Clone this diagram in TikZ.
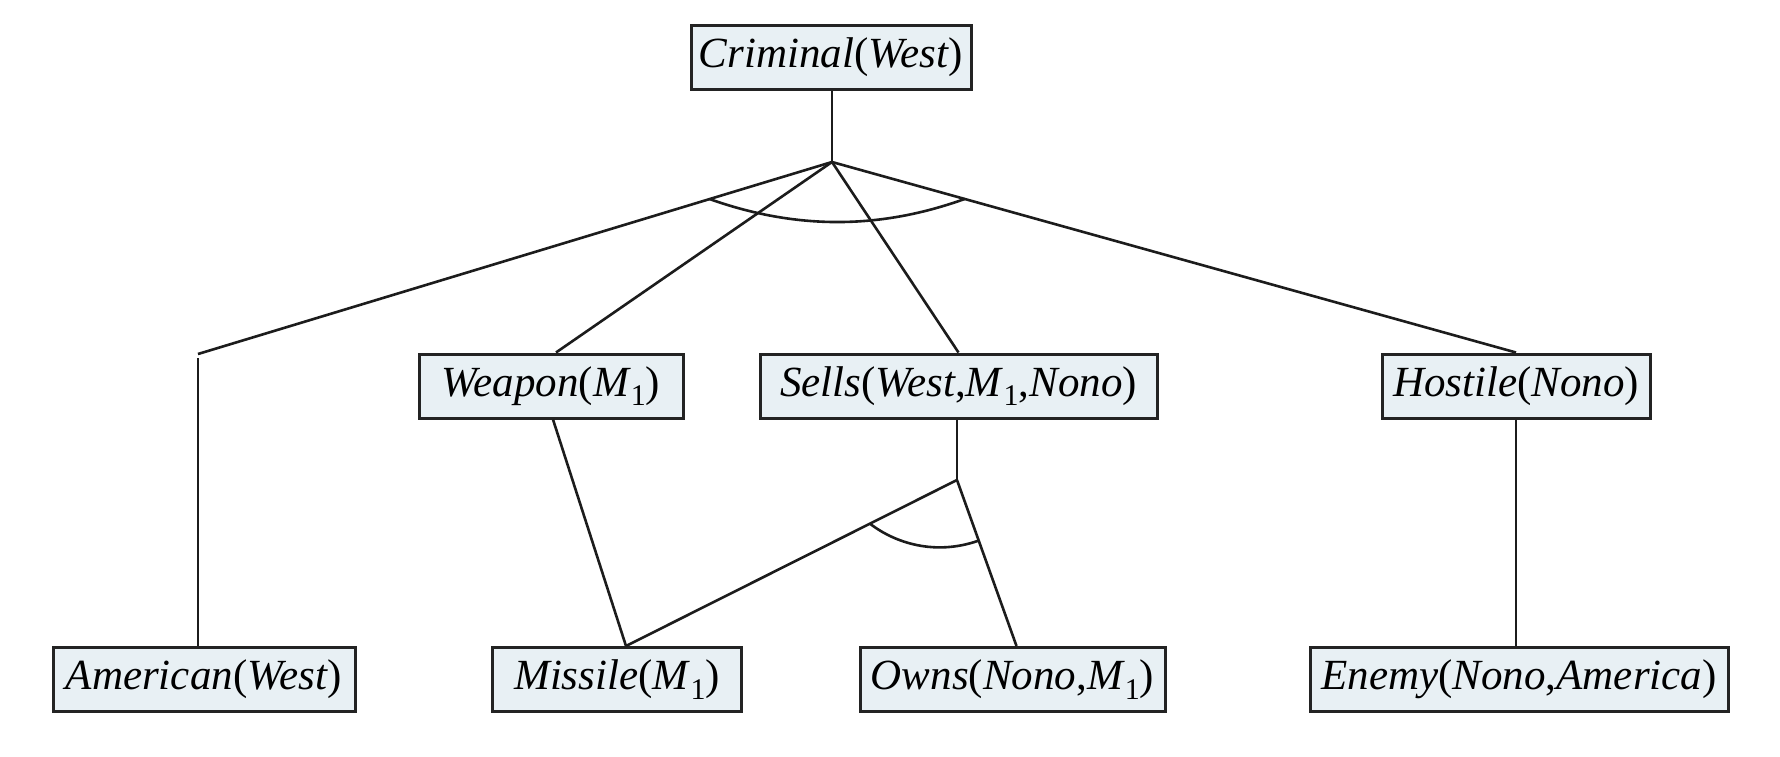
\documentclass[tikz,border=0pt]{standalone}
\usepackage{fontspec}
\setmainfont{Liberation Serif}
\usepackage{graphicx}
\usetikzlibrary{calc}
\definecolor{boxfill}{RGB}{232,240,244}
\definecolor{boxline}{RGB}{35,35,35}
\definecolor{linecol}{RGB}{28,28,28}
\newcommand{\subone}{\raisebox{-0.22em}{\fontsize{30}{30}\selectfont 1}}
\tikzset{
  box/.style={draw=boxline, line width=3pt, fill=boxfill, minimum height=64pt,
    inner sep=0pt, font=\fontsize{43}{50}\selectfont},
  conn/.style={draw=linecol, line width=2.6pt}
}
\begin{document}
\begin{tikzpicture}[x=1pt,y=-1pt]
\fill[white] (0,0) rectangle (1780,756);
\useasboundingbox (0,0) rectangle (1780,756);

\node[box, minimum width=280pt] (criminal) at (831,57) {\textit{Criminal}(\textit{West})};
\node[box, minimum width=264pt] (weapon) at (551,386) {\textit{Weapon}(\textit{M}\subone)};
\node[box, minimum width=397pt] (sells) at (958.5,386) {\textit{Sells}(\textit{West},\textit{M}\subone,\textit{Nono})};
\node[box, minimum width=268pt] (hostile) at (1516,386) {\textit{Hostile}(\textit{Nono})};
\node[box, minimum width=302pt] (american) at (204,679.5) {\textit{American}(\textit{West})};
\node[box, minimum width=249pt] (missile) at (617,679.5) {\textit{Missile}(\textit{M}\subone)};
\node[box, minimum width=305pt] (owns) at (1012.5,679.5) {\textit{Owns}(\textit{Nono},\textit{M}\subone)};
\node[box, minimum width=418pt] (enemy) at (1519,679.5) {\textit{Enemy}(\textit{Nono},\textit{America})};

\coordinate (apex) at (832,162);
\coordinate (leftend) at (198,354);
\coordinate (amstart) at (198,358);
\coordinate (junction) at (957,480);
\coordinate (wtop) at ($(weapon.north)+(5,0)$);
\coordinate (wbot) at ($(weapon.south)+(2,0)$);
\coordinate (mtop) at ($(missile.north)+(9,0)$);
\coordinate (otop) at ($(owns.north)+(4,0)$);

\draw[conn] (apex |- criminal.south) -- (apex);
\draw[conn] (apex) -- (leftend);
\draw[conn] (amstart) -- (amstart |- american.north);
\draw[conn] (apex) -- (wtop);
\draw[conn] (apex) -- (sells.north);
\draw[conn] (apex) -- (hostile.north);
\draw[conn] (wbot) -- (mtop);
\draw[conn] (junction |- sells.south) -- (junction);
\draw[conn] (junction) -- (mtop);
\draw[conn] (junction) -- (otop);
\draw[conn] (hostile.south) -- (hostile.south |- enemy.north);

\draw[conn] ($(apex)!0.193!(leftend)$) .. controls (796,229.7) and (879,229.7) .. ($(apex)!0.194!(hostile.north)$);
\draw[conn] ($(junction)!0.263!(mtop)$) .. controls (895,543) and (935,556) .. ($(junction)!0.365!(otop)$);
\end{tikzpicture}
\end{document}
